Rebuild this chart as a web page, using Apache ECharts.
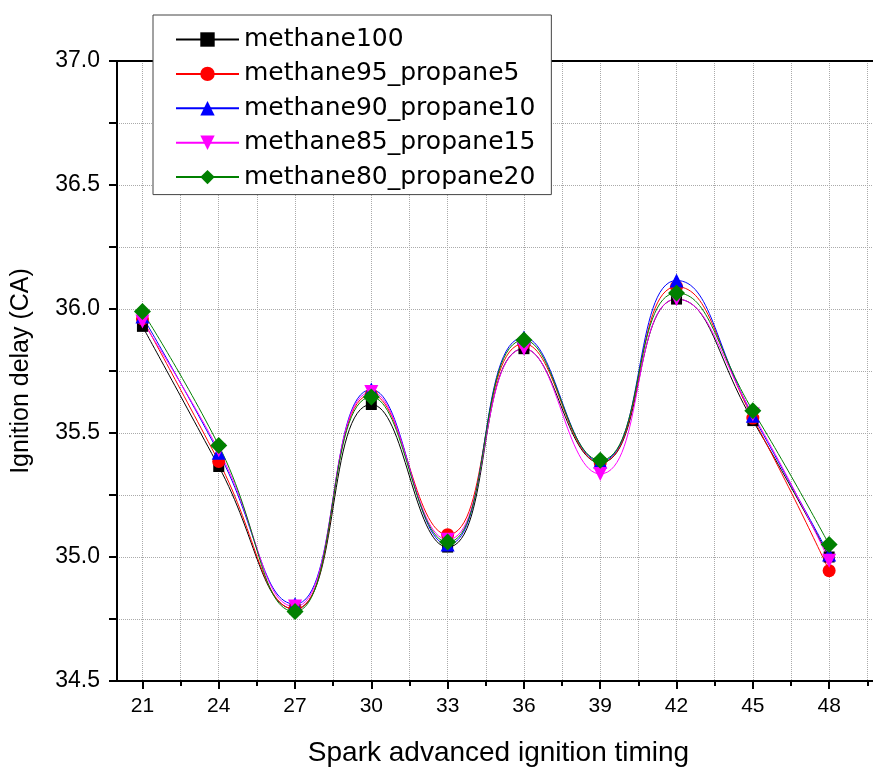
<!DOCTYPE html>
<html>
<head>
<meta charset="utf-8">
<script src="https://cdn.jsdelivr.net/npm/echarts@6/dist/echarts.min.js"></script>
<style>
  html, body { margin: 0; padding: 0; background: #fff; }
  #chart { width: 873px; height: 769px; }
</style>
</head>
<body>
<div id="chart"></div>
<script>
// spark advance (x) and ignition delay per fuel blend (y)
const timing = [21, 24, 27, 30, 33, 36, 39, 42, 45, 48]
const methane100 = [35.93, 35.365, 34.79, 35.615, 35.04, 35.84, 35.38, 36.04, 35.55, 35.0]
const methane95_propane5 = [35.96, 35.385, 34.79, 35.655, 35.09, 35.86, 35.38, 36.09, 35.56, 34.945]
const methane90_propane10 = [35.97, 35.42, 34.81, 35.675, 35.05, 35.885, 35.385, 36.115, 35.57, 35.01]
const methane85_propane15 = [35.95, 35.43, 34.8, 35.665, 35.07, 35.84, 35.335, 36.04, 35.575, 34.985]
const methane80_propane20 = [35.99, 35.45, 34.78, 35.645, 35.06, 35.875, 35.39, 36.065, 35.59, 35.05]

const majorTicks = [21, 24, 27, 30, 33, 36, 39, 42, 45, 48]
const minorTicks = [22.5, 25.5, 28.5, 31.5, 34.5, 37.5, 40.5, 43.5, 46.5, 49.5]

const chart = echarts.init(document.getElementById('chart'))

const axisFont = 'Liberation Sans'
// dotted grid, like the Origin default
const gridLine = { show: true, lineStyle: { color: '#aaaaaa', type: 'dotted', width: 1 } }

function makeSeries(name, values, symbol, size, color, rotate) {
  return {
    name: name,
    type: 'line',
    xAxisIndex: 0,
    data: timing.map((x, i) => [x, values[i]]),
    smooth: 0.5,
    symbol: symbol,
    symbolSize: size,
    symbolRotate: rotate || 0,
    showAllSymbol: true,
    lineStyle: { color: color, width: 1 },
    itemStyle: { color: color },
    emphasis: { disabled: true },
  }
}

const option = {
  animation: false,
  grid: {
    left: 117,
    top: 61,
    right: -7,
    bottom: 88,
    outerBoundsMode: 'none',
  },
  legend: {
    orient: 'vertical',
    left: 153,
    top: 15,
    padding: [12, 16, 5, 22],
    itemGap: 9.4,
    itemWidth: 63,
    itemHeight: 18,
    backgroundColor: '#fff',
    borderColor: '#444',
    borderWidth: 1,
    borderRadius: 0,
    textStyle: { fontFamily: 'DejaVu Sans', fontSize: 25, lineHeight: 24, color: '#000' },
  },
  xAxis: [
    {
      type: 'value',
      min: 20,
      max: 50,
      position: 'bottom',
      name: 'Spark advanced ignition timing',
      nameLocation: 'middle',
      nameGap: 58,
      nameTextStyle: { fontFamily: axisFont, fontSize: 28, color: '#000' },
      axisLine: { show: true, onZero: false, lineStyle: { color: '#000', width: 2 } },
      axisTick: { show: true, customValues: majorTicks, length: 8, lineStyle: { color: '#000', width: 2 } },
      axisLabel: { customValues: majorTicks, fontFamily: axisFont, fontSize: 21, color: '#000', margin: 15 },
      splitLine: gridLine,
    },
    {
      type: 'value',
      min: 20,
      max: 50,
      position: 'bottom',
      axisLine: { show: false },
      axisTick: { show: true, customValues: minorTicks, length: 5, lineStyle: { color: '#000', width: 2 } },
      axisLabel: { show: false },
      splitLine: gridLine,
    },
    {
      type: 'value',
      min: 20,
      max: 50,
      position: 'top',
      axisLine: { show: true, onZero: false, lineStyle: { color: '#000', width: 2 } },
      axisTick: { show: false },
      axisLabel: { show: false },
      splitLine: { show: false },
    },
  ],
  yAxis: {
    type: 'value',
    min: 34.5,
    max: 37,
    interval: 0.25,
    name: 'Ignition delay (CA)',
    nameLocation: 'middle',
    nameGap: 83,
    nameTextStyle: { fontFamily: axisFont, fontSize: 25, color: '#000' },
    axisLine: { show: true, onZero: false, lineStyle: { color: '#000', width: 2 } },
    axisTick: { show: true, length: 8, lineStyle: { color: '#000', width: 2 } },
    axisLabel: {
      fontFamily: axisFont,
      fontSize: 23,
      color: '#000',
      margin: 17,
      formatter: v => (Math.abs(v * 2 - Math.round(v * 2)) < 1e-6 ? v.toFixed(1) : ''),
    },
    splitLine: gridLine,
  },
  series: [
    makeSeries('methane100', methane100, 'rect', 11, '#000000'),
    makeSeries('methane95_propane5', methane95_propane5, 'circle', 13, '#ff0000'),
    makeSeries('methane90_propane10', methane90_propane10, 'triangle', 14, '#0000ff'),
    makeSeries('methane85_propane15', methane85_propane15, 'triangle', 14, '#ff00ff', 180),
    makeSeries('methane80_propane20', methane80_propane20, 'diamond', 17, '#008000'),
  ],
}

chart.setOption(option)
</script>
</body>
</html>
